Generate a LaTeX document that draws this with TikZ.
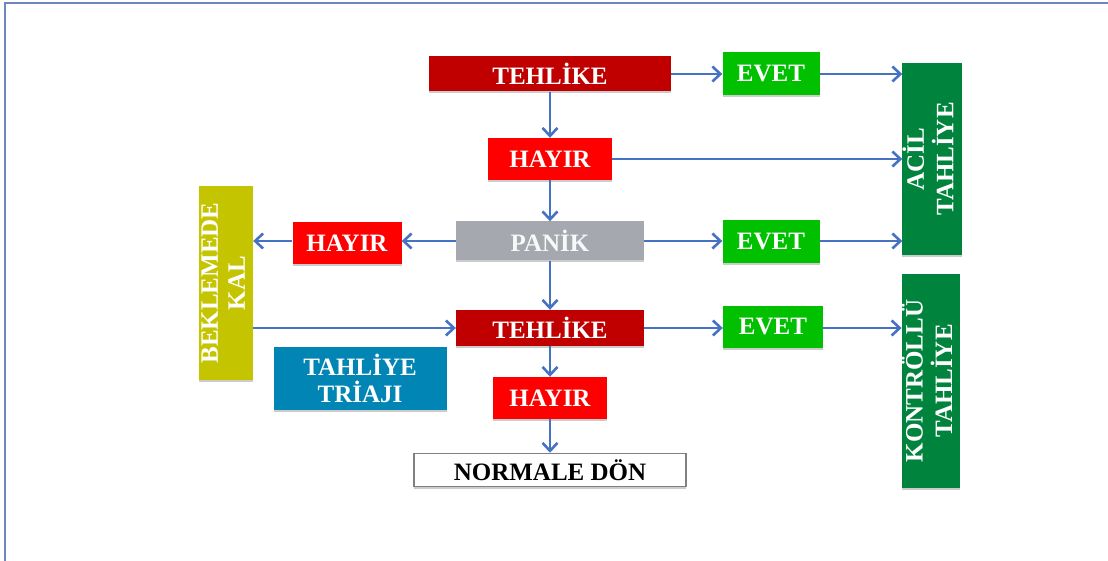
\documentclass[tikz,border=0pt]{standalone}
\usepackage{fontspec}
\setmainfont{Liberation Serif}
\usetikzlibrary{arrows.meta, shadows}
\usepackage{xcolor}
\definecolor{koyukirmizi}{RGB}{192,0,0}
\definecolor{kirmizi}{RGB}{255,0,0}
\definecolor{yesil}{RGB}{0,192,0}
\definecolor{koyuyesil}{RGB}{0,132,61}
\definecolor{gri}{RGB}{165,168,175}
\definecolor{zeytin}{RGB}{196,196,0}
\definecolor{mavi}{RGB}{0,133,180}
\definecolor{okmavi}{RGB}{70,114,196}
\definecolor{cerceve}{RGB}{110,135,190}

\begin{document}
\begin{tikzpicture}[x=1pt, y=-1pt,
		kutu/.style={inner sep=0pt, text=white, align=center,
			font=\fontsize{25}{27}\selectfont\bfseries,
			drop shadow={shadow xshift=0pt, shadow yshift=-2pt, opacity=0.4}},
		ok/.style={draw=okmavi, line width=2.6pt, -{Straight Barb[length=8pt,width=15pt]}}]
		\useasboundingbox (0,0) rectangle (1108,561);
		% frame
		\draw[cerceve, line width=2pt] (5,561) -- (5,3) -- (1108,3);
		% middle column
		\node[kutu, fill=koyukirmizi, minimum width=242, minimum height=35] (tehlike1) at (550,74) {TEHLİKE};
		\node[kutu, fill=kirmizi, minimum width=124, minimum height=42] (hayir1) at (550,159) {HAYIR};
		\node[kutu, fill=gri, text=white!92!gri, minimum width=188, minimum height=39] (panik) at (550,241) {PANİK};
		\node[kutu, fill=koyukirmizi, minimum width=188, minimum height=36] (tehlike2) at (550,328) {TEHLİKE};
		\node[kutu, fill=kirmizi, minimum width=114, minimum height=42] (hayir3) at (550,398) {HAYIR};
		\node[kutu, fill=white, draw=gray, line width=1.5pt, text=black, minimum width=272, minimum height=33] (normal) at (550,470) {NORMALE DÖN};
		% left side
		\node[kutu, fill=kirmizi, minimum width=109, minimum height=42] (hayir2) at (347,243) {HAYIR};
		\node[kutu, fill=zeytin, minimum width=53, minimum height=193] (bekle) at (226,283)
			{\rotatebox{90}{\begin{tabular}{@{}c@{}}BEKLEMEDE\\KAL\end{tabular}}};
		\node[kutu, fill=mavi, minimum width=173, minimum height=63] (triaji) at (360,378) {TAHLİYE\\TRİAJI};
		% right side
		\node[kutu, fill=yesil, minimum width=97, minimum height=43] (evet1) at (771,74) {EVET};
		\node[kutu, fill=yesil, minimum width=97, minimum height=43] (evet2) at (771,242) {EVET};
		\node[kutu, fill=yesil, minimum width=100, minimum height=42] (evet3) at (773,327) {EVET};
		\node[kutu, fill=koyuyesil, minimum width=52, minimum height=192] (acil) at (932,159)
			{\rotatebox{90}{\begin{tabular}{@{}c@{}}ACİL\\TAHLİYE\end{tabular}}};
		\node[kutu, fill=koyuyesil, minimum width=54, minimum height=213] (kontrol) at (931,381)
			{\rotatebox{90}{\begin{tabular}{@{}c@{}}KONTRÖLLÜ\\TAHLİYE\end{tabular}}};
		% arrows
		\draw[ok] (tehlike1) -- (hayir1);
		\draw[ok] (hayir1) -- (panik);
		\draw[ok] (panik) -- (tehlike2);
		\draw[ok] (tehlike2) -- (hayir3);
		\draw[ok] (hayir3) -- (normal);
		\draw[ok] (tehlike1) -- (evet1);
		\draw[ok] (evet1.east) -- (evet1 -| acil.west);
		\draw[ok] (hayir1.east) -- (hayir1 -| acil.west);
		\draw[ok] (panik.east) -- (panik -| evet2.west);
		\draw[ok] (evet2.east |- panik) -- (panik -| acil.west);
		\draw[ok] (panik.west) -- (panik -| hayir2.east);
		\draw[ok] (hayir2.west |- panik) -- (panik -| bekle.east);
		\draw[ok] (bekle.east |- tehlike2) -- (tehlike2.west);
		\draw[ok] (tehlike2.east) -- (tehlike2 -| evet3.west);
		\draw[ok] (evet3.east |- tehlike2) -- (tehlike2 -| kontrol.west);
	\end{tikzpicture}
\end{document}
